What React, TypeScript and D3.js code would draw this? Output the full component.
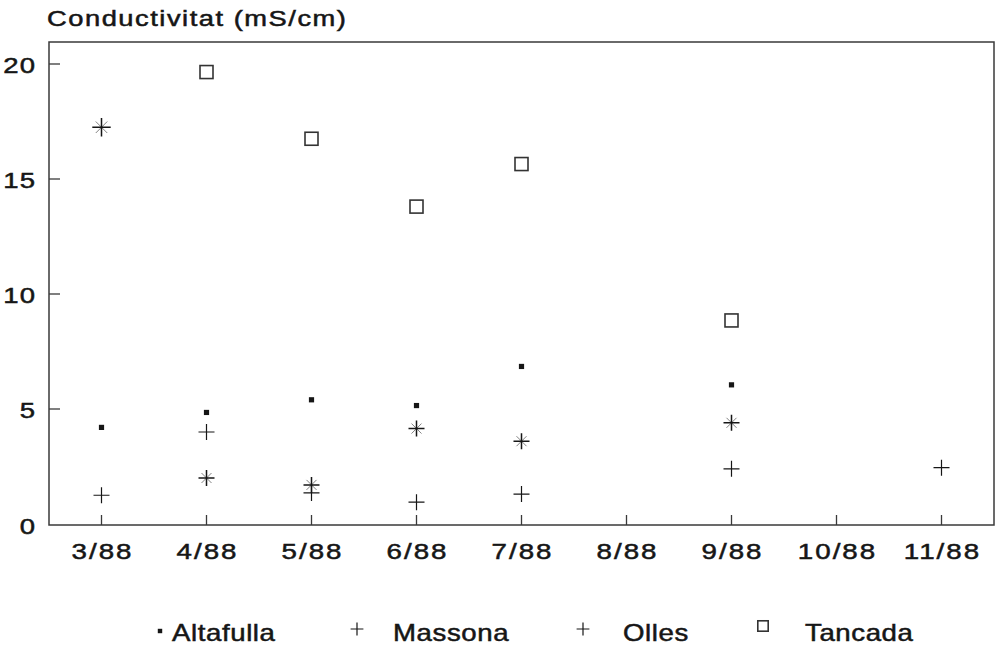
import React from "react";
import * as d3 from "d3";

// Monthly sampling dates
const months = ["3/88", "4/88", "5/88", "6/88", "7/88", "8/88", "9/88", "10/88", "11/88"];
const yTicks = [0, 5, 10, 15, 20];

// Conductivity per site (mS/cm); null = no sample that month
const altafulla: (number | null)[] = [4.2, 4.85, 5.4, 5.15, 6.85, null, 6.05, null, null];
const massona: (number | null)[] = [1.25, 4.0, 1.35, 0.95, 1.3, null, 2.4, null, 2.45];
const olles: (number | null)[] = [17.25, 2.0, 1.7, 4.15, 3.6, null, 4.4, null, null];
const tancada: (number | null)[] = [null, 19.65, 16.75, 13.8, 15.65, null, 8.85, null, null];

const W = 997;
const H = 651;
const left = 49;
const right = 994;
const top = 42;
const bottom = 525;
const ink = "#161616";
const font = "'Liberation Sans', Arial, sans-serif";

type Shape = "dot" | "plus" | "star" | "square";

// Wide-set label text: the typeface is stretched horizontally and given a light outline
function Label({
  x,
  y,
  children,
  size,
  sx,
  anchor = "start",
  spacing = 0,
}: {
  x: number;
  y: number;
  children: React.ReactNode;
  size: number;
  sx: number;
  anchor?: "start" | "middle" | "end";
  spacing?: number;
}) {
  // trailing letter-spacing shifts centred/right-aligned text; compensate
  const shift = anchor === "middle" ? (spacing * sx) / 2 : anchor === "end" ? spacing * sx : 0;
  return (
    <text
      transform={`translate(${x + shift},${y}) scale(${sx},1)`}
      textAnchor={anchor}
      fontFamily={font}
      fontSize={size}
      fontWeight={400}
      letterSpacing={spacing}
      fill={ink}
      stroke={ink}
      strokeWidth={0.5}
    >
      {children}
    </text>
  );
}

function Marker({ shape, x, y, s = 1 }: { shape: Shape; x: number; y: number; s?: number }) {
  if (shape === "dot") {
    const r = 2.6 * s;
    return <rect x={x - r} y={y - r} width={2 * r} height={2 * r} fill={ink} />;
  }
  if (shape === "plus") {
    const h = 8 * s;
    return (
      <path d={`M${x - h},${y}H${x + h}M${x},${y - h}V${y + h}`} stroke={ink} strokeWidth={1.2} fill="none" />
    );
  }
  if (shape === "star") {
    const h = 8 * s;
    const d = 5 * s;
    return (
      <g stroke={ink} fill="none">
        <path d={`M${x - h},${y}H${x + h}M${x},${y - h}V${y + h}`} strokeWidth={1.5} />
        <path d={`M${x - d},${y - d}L${x + d},${y + d}M${x - d},${y + d}L${x + d},${y - d}`} strokeWidth={0.9} opacity={0.6} />
      </g>
    );
  }
  const h = 6.5 * s;
  return <rect x={x - h} y={y - h} width={2 * h} height={2 * h} fill="none" stroke="#333" strokeWidth={1.6} />;
}

const series: { name: string; values: (number | null)[]; shape: Shape }[] = [
  { name: "Altafulla", values: altafulla, shape: "dot" },
  { name: "Massona", values: massona, shape: "plus" },
  { name: "Olles", values: olles, shape: "star" },
  { name: "Tancada", values: tancada, shape: "square" },
];

// Legend placement (marker x, label x)
const legendPos = [
  { mx: 160, tx: 172 },
  { mx: 357, tx: 393 },
  { mx: 583, tx: 623 },
  { mx: 763, tx: 805 },
];

export default function App() {
  const x = d3.scalePoint<string>().domain(months).range([left, right]).padding(0.5);
  const y = d3.scaleLinear().domain([0, 20]).range([524, 64]);

  return (
    <svg
      width={W}
      height={H}
      viewBox={`0 0 ${W} ${H}`}
      style={{ position: "absolute", left: 0, top: 0, background: "#fff" }}
    >
      <rect width={W} height={H} fill="#fff" />
      <Label x={47} y={26} size={21.5} sx={1.27} spacing={1.2}>
        Conductivitat (mS/cm)
      </Label>

      {/* plot frame */}
      <rect x={left} y={top} width={right - left} height={bottom - top} fill="none" stroke="#3a3a3a" strokeWidth={1.5} />

      {/* y axis ticks and labels */}
      {yTicks.map((t) => (
        <g key={t}>
          {t > 0 && <line x1={left} x2={left + 11} y1={y(t)} y2={y(t)} stroke="#3a3a3a" strokeWidth={1.3} />}
          <Label x={35} y={y(t) + (t === 0 ? 10 : 9)} size={22} sx={1.25} anchor="end" spacing={1}>
            {t}
          </Label>
        </g>
      ))}

      {/* x axis ticks and labels */}
      {months.map((m) => (
        <g key={m}>
          <line x1={x(m)!} x2={x(m)!} y1={bottom} y2={bottom - 10} stroke="#3a3a3a" strokeWidth={1.3} />
          <Label x={x(m)!} y={559} size={22} sx={1.26} anchor="middle" spacing={1.6}>
            {m}
          </Label>
        </g>
      ))}

      {/* data points */}
      {series.map((s) =>
        s.values.map((v, i) =>
          v == null ? null : (
            <Marker
              key={s.name + i}
              shape={s.shape}
              x={x(months[i])!}
              y={y(v)}
              s={s.shape === "star" && i === 0 ? 1.15 : 1}
            />
          )
        )
      )}

      {/* legend */}
      {series.map((s, i) => (
        <g key={s.name}>
          <Marker
            shape={s.shape === "star" ? "plus" : s.shape}
            x={legendPos[i].mx}
            y={s.shape === "dot" ? 631 : s.shape === "square" ? 626 : 629}
            s={s.shape === "square" ? 0.8 : s.shape === "dot" ? 0.85 : 0.8}
          />
          <Label x={legendPos[i].tx} y={641} size={23} sx={1.2} spacing={0.5}>
            {s.name}
          </Label>
        </g>
      ))}
    </svg>
  );
}
